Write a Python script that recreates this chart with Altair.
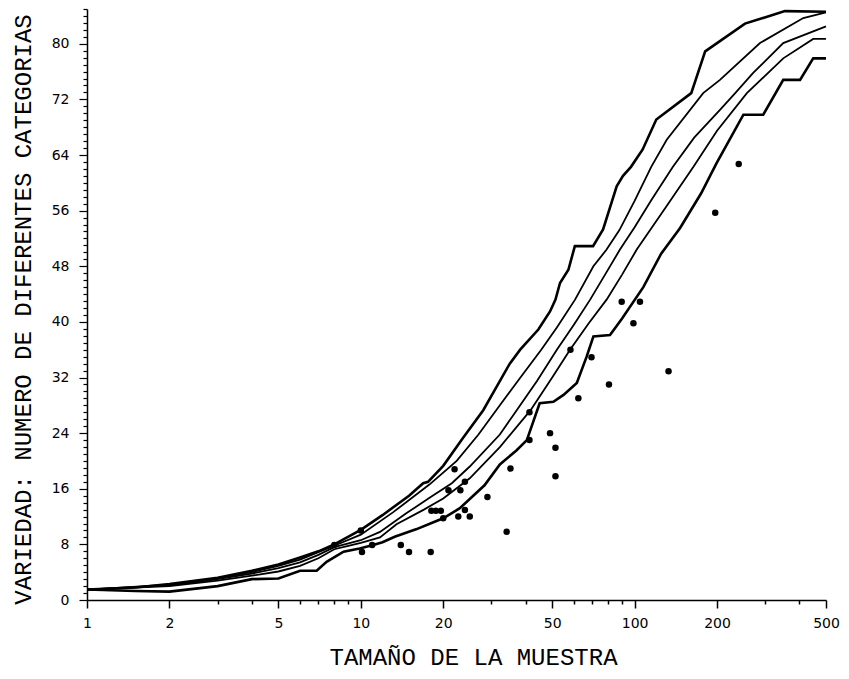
import altair as alt
import pandas as pd

# ---- curves (sample size, number of categories) ----
upper_x = [1, 1.5, 2, 3, 4, 5, 6, 7, 8, 10, 12, 15, 16.9, 17.6, 20, 23.5, 28, 35, 38.2, 44.5,
           49.1, 51.4, 53.4, 57.3, 60.5, 70.5, 76.7, 86, 90.7, 97, 107, 120, 161, 181, 200, 253, 354, 500]
upper_y = [1.5, 1.8, 2.3, 3.2, 4.2, 5.1, 6.1, 7.0, 8.0, 10.1, 12.2, 15.0, 16.8, 17.0, 19.3, 23.2, 27.3, 34.0, 36.0, 38.9,
           41.5, 43.2, 45.6, 47.5, 50.9, 50.9, 53.3, 59.5, 61.0, 62.3, 64.8, 69.1, 72.9, 78.9, 80.1, 82.9, 84.7, 84.6]

upmid_x = [1, 2, 3, 4, 5, 6, 8, 10, 13.1, 17.8, 22.4, 26.9, 32.2, 38.1, 45.6, 52, 60.6, 70.7, 79, 88,
           100, 115, 131, 178, 205, 287, 413, 500]
upmid_y = [1.5, 2.2, 3.1, 4.0, 4.9, 5.8, 7.8, 9.4, 12.6, 16.6, 20.0, 23.8, 28.0, 31.9, 36.0, 39.2, 43.2, 48.0, 50.4, 53.2,
           57.4, 62.3, 66.2, 72.9, 74.8, 80.1, 83.7, 84.5]

mid_x = [1, 2, 3, 4, 5, 6, 7, 8, 10, 11.75, 14.7, 18, 21.5, 25, 32.2, 37.1, 44, 52, 60, 68.8,
         78, 88.4, 100, 115, 138, 165, 205, 233, 271, 349, 500]
mid_y = [1.5, 2.1, 3.0, 3.8, 4.6, 5.4, 6.5, 7.6, 8.6, 9.8, 12.5, 14.8, 16.8, 19.2, 23.8, 27.3, 31.5, 36.0, 39.6, 43.2,
         46.8, 50.4, 53.6, 57.5, 62.3, 66.5, 70.5, 72.9, 75.8, 80.1, 82.5]

lowmid_x = [1, 2, 3, 4, 5, 6, 7, 8, 9, 10, 11.75, 13.5, 17, 20, 25, 32.2, 41.7, 50, 58.1, 68,
            79, 90, 101.8, 130, 164, 200, 257, 349, 449, 500]
lowmid_y = [1.5, 2.0, 2.8, 3.5, 4.1, 4.9, 6.0, 7.3, 7.8, 8.2, 9.0, 10.9, 13.0, 14.6, 17.5, 22.0, 27.3, 32.0, 36.0, 39.8,
            43.2, 46.8, 50.4, 56.5, 62.3, 67.5, 72.9, 77.9, 80.7, 80.7]

lower_x = [1, 1.5, 2, 3, 4, 5, 6, 6.9, 7.5, 8.65, 9.9, 11.1, 12, 13.3, 16, 18.7, 20, 23, 28.3, 32.2,
           37, 40.4, 45, 50.5, 55, 61.5, 66.8, 70.7, 81.3, 90, 107.6, 125, 146.6, 175, 199, 249.6, 295, 349, 402, 449, 500]
lower_y = [1.5, 1.3, 1.2, 2.0, 3.0, 3.1, 4.2, 4.2, 5.5, 6.95, 7.4, 7.9, 8.3, 9.1, 10.2, 11.3, 11.75, 13.2, 16.5, 19.5,
           21.5, 23.0, 28.3, 28.5, 29.5, 31.2, 35.0, 37.9, 38.1, 40.5, 45.0, 49.8, 53.5, 58.5, 62.8, 69.8, 69.8, 74.8, 74.8, 77.9, 77.9]

# ---- observed samples ----
dots_x = [8.0, 10.0, 10.1, 11.0, 14.0, 15.0, 18.0, 18.1, 18.8, 19.6, 20.0, 20.9, 22.0, 23.1, 22.7, 24.0, 24.0, 25.0,
          29.0, 34.1, 35.2, 41.3, 41.3, 49.1, 51.4, 51.4, 58.3, 62.3, 69.6, 80.6, 89.7, 99.0, 104.6, 133, 197, 240]
dots_y = [7.9, 10.0, 6.9, 7.9, 7.9, 6.9, 6.9, 12.85, 12.85, 12.85, 11.75, 15.8, 18.8, 15.8, 12.0, 12.95, 17.0, 12.0,
          14.8, 9.8, 18.9, 27.0, 23.0, 24.0, 21.9, 17.8, 36.0, 29.0, 34.9, 31.0, 42.9, 39.8, 42.9, 32.9, 55.7, 62.7]

# ---- axis ticks ----
x_major = [1, 2, 5, 10, 20, 50, 100, 200, 500]
x_minor = [3, 4, 6, 7, 8, 9, 30, 40, 60, 70, 80, 90, 300, 400]
y_major = [0, 8, 16, 24, 32, 40, 48, 56, 64, 72, 80]
y_all = list(range(0, 86))


def long(name, xs, ys):
    return pd.DataFrame({"n": xs, "v": ys, "curve": name})


thick_df = pd.concat([long("upper", upper_x, upper_y), long("lower", lower_x, lower_y)])
thin_df = pd.concat([long("upmid", upmid_x, upmid_y), long("mid", mid_x, mid_y),
                     long("lowmid", lowmid_x, lowmid_y)])
dots_df = pd.DataFrame({"n": dots_x, "v": dots_y})

x_list = ",".join(str(v) for v in x_major)
y_list = ",".join(str(v) for v in y_major)
x_axis = alt.Axis(
    values=sorted(x_major + x_minor),
    labelExpr=f"indexof([{x_list}], datum.value) >= 0 ? format(datum.value, 'd') : ''",
    tickSize={"condition": {"test": f"indexof([{x_list}], datum.value) >= 0", "value": 8}, "value": 4},
    labelFlush=False, labelOverlap=False, grid=False,
    labelFont="DejaVu Sans", labelFontSize=14, labelColor="black", labelPadding=8,
    domainColor="black", domainWidth=1.5, tickColor="black", tickWidth=1.5,
    title="TAMAÑO DE LA MUESTRA", titleFont="Liberation Mono", titleFontSize=24,
    titleFontWeight="normal", titleColor="black", titleX=386, titleY=64,
    titleAlign="center", titleBaseline="alphabetic",
)
y_axis = alt.Axis(
    values=y_all,
    labelExpr=f"indexof([{y_list}], datum.value) >= 0 ? datum.label : ''",
    tickSize={"condition": {"test": f"indexof([{y_list}], datum.value) >= 0", "value": 8}, "value": 4},
    labelFlush=False, labelOverlap=False, grid=False,
    labelFont="DejaVu Sans", labelFontSize=14, labelColor="black", labelPadding=10,
    domainColor="black", domainWidth=1.5, tickColor="black", tickWidth=1.2,
    title="VARIEDAD: NUMERO DE DIFERENTES CATEGORIAS", titleFont="Liberation Mono",
    titleFontSize=24, titleFontWeight="normal", titleColor="black",
    titleX=-57, titleY=300, titleAngle=-90, titleAlign="center", titleBaseline="alphabetic",
)

xs = alt.X("n:Q", scale=alt.Scale(type="log", domain=[1, 500], nice=False), axis=x_axis)
ys = alt.Y("v:Q", scale=alt.Scale(domain=[0, 85], nice=False, zero=False), axis=y_axis)

thick = alt.Chart(thick_df).mark_line(color="black", strokeWidth=2.6).encode(
    x=xs, y=ys, detail="curve:N")
thin = alt.Chart(thin_df).mark_line(color="black", strokeWidth=1.8).encode(
    x=xs, y=ys, detail="curve:N")
dots = alt.Chart(dots_df).mark_circle(color="black", size=42, opacity=1).encode(x=xs, y=ys)

chart = alt.layer(thick, thin, dots).properties(
    width=739, height=591,
    autosize=alt.AutoSizeParams(type="none"),
    padding={"left": 79, "top": 1, "right": 15, "bottom": 71},
    background="white",
).configure_view(strokeWidth=0)

chart.save("out.html", embed_options={"renderer": "svg", "actions": False})
